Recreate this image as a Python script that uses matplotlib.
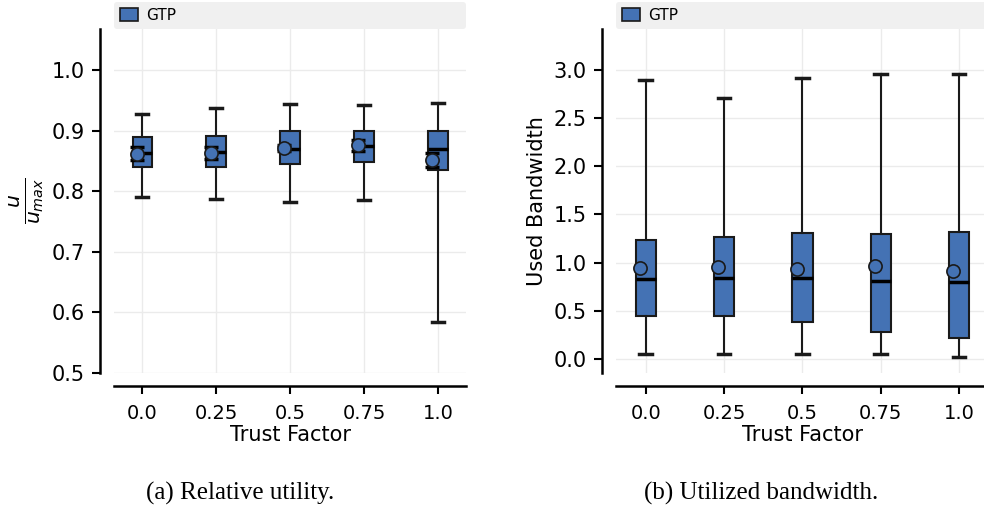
import numpy as np
import matplotlib.pyplot as plt
from matplotlib.patches import Patch

# Trust factor categories
trust = ['0.0', '0.25', '0.5', '0.75', '1.0']

# (a) relative utility u / u_max, box statistics
util_whislo = [0.791, 0.787, 0.782, 0.785, 0.584]
util_q1 = [0.840, 0.840, 0.845, 0.848, 0.835]
util_med = [0.863, 0.865, 0.870, 0.875, 0.870]
util_q3 = [0.890, 0.892, 0.899, 0.900, 0.899]
util_whishi = [0.928, 0.937, 0.944, 0.942, 0.945]
util_mean = [0.862, 0.864, 0.871, 0.876, 0.851]
util_ci_lo = [0.851, 0.853, 0.866, 0.866, 0.840]
util_ci_hi = [0.873, 0.873, 0.876, 0.885, 0.863]

# (b) used bandwidth
bw_whislo = [0.052, 0.052, 0.048, 0.052, 0.021]
bw_q1 = [0.445, 0.441, 0.386, 0.275, 0.220]
bw_med = [0.828, 0.841, 0.841, 0.813, 0.800]
bw_q3 = [1.234, 1.262, 1.304, 1.296, 1.314]
bw_whishi = [2.890, 2.700, 2.914, 2.949, 2.949]
bw_mean = [0.945, 0.952, 0.937, 0.962, 0.917]

BLUE = '#4472B4'
EDGE = '#1a1a1a'


def make_stats(lo, q1, med, q3, hi, mean):
    return [dict(whislo=a, q1=b, med=c, q3=d, whishi=e, mean=f, fliers=[])
            for a, b, c, d, e, f in zip(lo, q1, med, q3, hi, mean)]


def draw_panel(ax, stats, means, ci_lo=None, ci_hi=None):
    pos = np.arange(len(stats))
    ax.bxp(stats, positions=pos, widths=0.26, patch_artist=True, showmeans=False,
           boxprops=dict(facecolor=BLUE, edgecolor=EDGE, linewidth=1.5),
           medianprops=dict(color='black', linewidth=2.5),
           whiskerprops=dict(color=EDGE, linewidth=1.5),
           capprops=dict(color=EDGE, linewidth=2.5), capwidths=0.16,
           zorder=3)
    means = np.array(means)
    if ci_lo is not None:
        yerr = [means - np.array(ci_lo), np.array(ci_hi) - means]
        ax.errorbar(pos - 0.075, means, yerr=yerr, fmt='none', ecolor='black',
                    elinewidth=1.5, capsize=5, capthick=2.5, zorder=4)
    ax.plot(pos - 0.075, means, 'o', ms=9.5, mfc=BLUE, mec=EDGE, mew=1.2,
            linestyle='none', zorder=5)

    ax.set_xticks(pos)
    ax.set_xticklabels(trust)
    ax.set_xlim(-0.38, 4.38)
    ax.set_xlabel('Trust Factor', fontsize=15, labelpad=2)
    ax.grid(True, color='#ebebeb', linewidth=1, zorder=0)
    ax.set_axisbelow(True)
    for s in ['top', 'right']:
        ax.spines[s].set_visible(False)
    ax.spines['left'].set_position(('outward', 10))
    ax.spines['bottom'].set_position(('outward', 9))
    ax.spines['left'].set_linewidth(1.8)
    ax.spines['bottom'].set_linewidth(1.8)
    ax.tick_params(axis='both', length=6, width=1.5, direction='out')
    ax.tick_params(axis='x', labelsize=14, pad=7)
    ax.tick_params(axis='y', labelsize=15, pad=5)
    leg = ax.legend(handles=[Patch(facecolor=BLUE, edgecolor=EDGE, linewidth=1.2, label='GTP')],
                    loc='lower left', bbox_to_anchor=(0, 1.0, 1, 0.05), mode='expand',
                    borderaxespad=0, fontsize=11, handlelength=1.2, handleheight=0.9,
                    handletextpad=0.5, fancybox=True, framealpha=1)
    leg.get_frame().set_facecolor('#f0f0f0')
    leg.get_frame().set_edgecolor('none')


fig = plt.figure(figsize=(9.84, 5.14), dpi=100)
ax1 = fig.add_axes([0.1159, 0.2743, 0.3577, 0.6693])
ax2 = fig.add_axes([0.6260, 0.2743, 0.3789, 0.6693])

draw_panel(ax1, make_stats(util_whislo, util_q1, util_med, util_q3, util_whishi, util_mean),
           util_mean, util_ci_lo, util_ci_hi)
ax1.set_ylim(0.5, 1.068)
ax1.set_yticks([0.5, 0.6, 0.7, 0.8, 0.9, 1.0])
ax1.set_ylabel(r'$\frac{u}{u_{max}}$', fontsize=21, labelpad=4)

draw_panel(ax2, make_stats(bw_whislo, bw_q1, bw_med, bw_q3, bw_whishi, bw_mean), bw_mean)
ax2.set_ylim(-0.145, 3.42)
ax2.set_yticks([0.0, 0.5, 1.0, 1.5, 2.0, 2.5, 3.0])
ax2.set_ylabel('Used Bandwidth', fontsize=15, labelpad=5)

fig.text(0.244, 0.04, '(a) Relative utility.', fontsize=18, family='Liberation Serif',
         ha='center', va='center')
fig.text(0.773, 0.04, '(b) Utilized bandwidth.', fontsize=18, family='Liberation Serif',
         ha='center', va='center')

fig.savefig('out.png', dpi=100)
